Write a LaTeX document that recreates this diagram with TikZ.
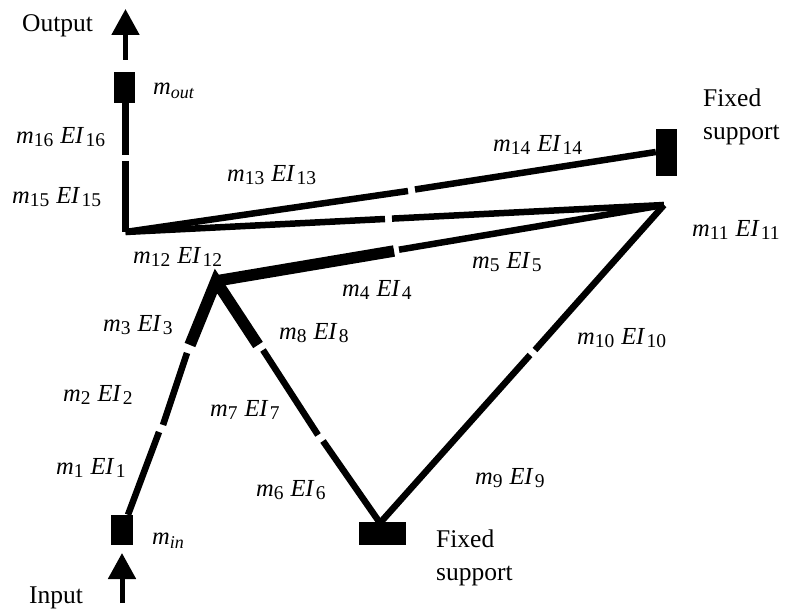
\documentclass[tikz,border=0pt]{standalone}
\usepackage{fontspec}
\setmainfont{Liberation Serif}
\usetikzlibrary{arrows.meta}
\newcommand{\mei}[2]{\textit{m}\raisebox{-.32ex}{\fontsize{19.5}{19.5}\selectfont #1}\hspace{.28em}\textit{EI}\raisebox{-.32ex}{\fontsize{19.5}{19.5}\selectfont\hspace{.06em}#2}}
\newcommand{\mlab}[1]{\textit{m}\raisebox{-.32ex}{\fontsize{18}{18}\selectfont\textit{#1}}}
\tikzset{
 beam/.style={line width=6.5pt,black},
 thick beam/.style={line width=11.5pt,black,line join=miter},
 post/.style={line width=7pt,black},
 mass/.style={fill=black,draw=none,inner sep=0pt},
 lab/.style={anchor=west,inner sep=0pt,font=\fontsize{24.5}{24.5}\selectfont},
 word/.style={anchor=west,inner sep=0pt,font=\fontsize{25.5}{25.5}\selectfont},
 flow/.style={line width=5pt,black,-{Triangle[length=26pt,width=27pt]}},
}
\begin{document}
\begin{tikzpicture}[x=1pt,y=-1pt]
\useasboundingbox (0,0) rectangle (785,609);
% masses and supports
\node[mass,minimum width=21pt,minimum height=31pt] (mout) at (124.5,87.5) {};
\node[mass,minimum width=22pt,minimum height=30pt] (min) at (122,530) {};
\node[mass,minimum width=21pt,minimum height=47pt] (fixA) at (666.5,152.5) {};
\node[mass,minimum width=47pt,minimum height=23pt] (fixB) at (382.5,533.5) {};
% joints and element breaks
\coordinate (corner) at (125.5,232);
\coordinate (crank) at (216,281);
\coordinate (tip) at (664,205);
\coordinate (baseB) at (380,523);
\coordinate (g16a) at (125.5,155); \coordinate (g16b) at (125.5,161);
\coordinate (g14a) at (408,191); \coordinate (g14b) at (415,189.5);
\coordinate (g12a) at (385,219); \coordinate (g12b) at (392,218.6);
\coordinate (g4a) at (394,251); \coordinate (g4b) at (399,249.7);
\coordinate (g3a) at (190,345); \coordinate (g3b) at (187,353);
\coordinate (g2a) at (163,425); \coordinate (g2b) at (159,432);
\coordinate (g8a) at (258,345); \coordinate (g8b) at (263,350);
\coordinate (g7a) at (318,435); \coordinate (g7b) at (323,441);
\coordinate (g10a) at (535,350); \coordinate (g10b) at (530,355);
\coordinate (inTail) at (122,603); \coordinate (inHead) at (122,553);
\coordinate (outTail) at (125.5,60); \coordinate (outHead) at (125.5,9);
% arrows
\draw[flow] (inTail) -- (inHead);
\draw[flow] (outTail) -- (outHead);
% beams
\draw[post] (mout.south -| g16a) -- (g16a);
\draw[post] (g16b) -- (corner);
\draw[beam,line join=miter] (corner) -- (g14a);
\draw[beam] (g14b) -- (fixA.west |- 0,152);
\draw[beam] (corner) -- (g12a);
\draw[beam] (g12b) -- (tip);
\draw[thick beam] (crank) -- (g4a);
\draw[beam] (g4b) -- (tip);
\draw[thick beam] (g3a) -- (crank) -- (g8a);
\draw[beam] (g3b) -- (g2a);
\draw[beam] (g2b) -- (min.north -| 128,0);
\draw[beam] (g8b) -- (g7a);
\draw[beam] (g7b) -- (baseB);
\draw[beam] (baseB) -- (g10b);
\draw[beam] (g10a) -- (tip);
% labels
\node[word] (tOut) at (22,26) {Output};
\node[word] (tIn) at (29,598) {Input};
\node[word,align=left] (tFixA) at (703,117) {Fixed\\[8pt]support};
\node[word,align=left] (tFixB) at (436,558) {Fixed\\[8pt]support};
\node[lab] (lout) at (153,91) {\mlab{out}};
\node[lab] (lin) at (152,541) {\mlab{in}};
\node[lab] (l16) at (16,137) {\mei{16}{16}};
\node[lab] (l15) at (12,197) {\mei{15}{15}};
\node[lab] (l14) at (493,145) {\mei{14}{14}};
\node[lab] (l13) at (227,175) {\mei{13}{13}};
\node[lab] (l12) at (133,257) {\mei{12}{12}};
\node[lab] (l11) at (692,230) {\mei{11}{11}};
\node[lab] (l5) at (472,262) {\mei{5}{5}};
\node[lab] (l4) at (342,290) {\mei{4}{4}};
\node[lab] (l3) at (103,325) {\mei{3}{3}};
\node[lab] (l8) at (279,333) {\mei{8}{8}};
\node[lab] (l10) at (577,338) {\mei{10}{10}};
\node[lab] (l2) at (63,395) {\mei{2}{2}};
\node[lab] (l7) at (210,410) {\mei{7}{7}};
\node[lab] (l1) at (56,468) {\mei{1}{1}};
\node[lab] (l6) at (256,490) {\mei{6}{6}};
\node[lab] (l9) at (475,478) {\mei{9}{9}};
\end{tikzpicture}
\end{document}
